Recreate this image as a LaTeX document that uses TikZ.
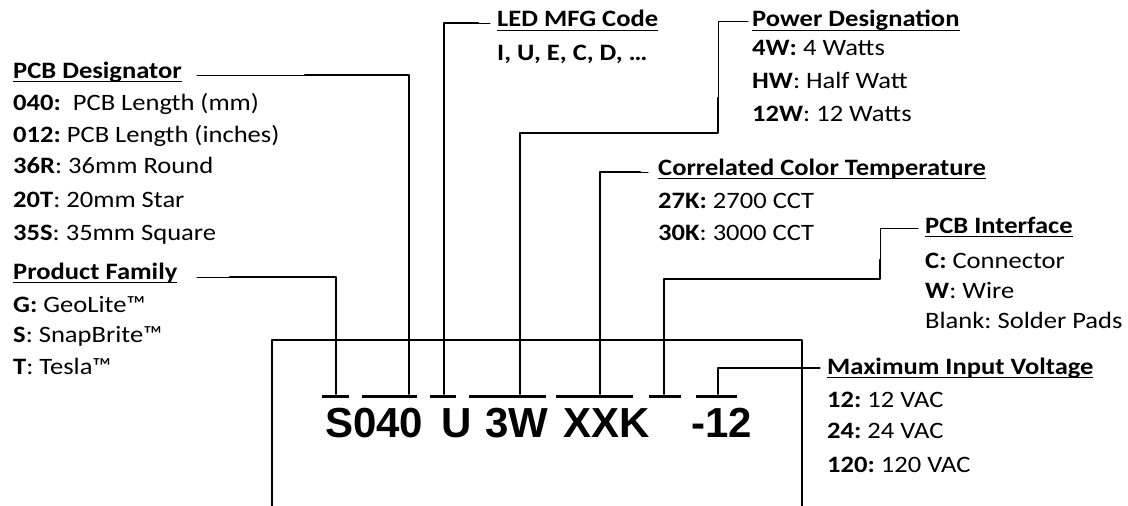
\documentclass[tikz,border=0pt]{standalone}
\usepackage{fontspec}
\setmainfont[FakeStretch=1.13]{Carlito}
\newfontfamily\codefont{Liberation Sans}
\newcommand\hd[1]{\setbox0\hbox{\textbf{#1}}\rlap{\rule[-4.2pt]{\wd0}{1.4pt}}\box0}

\begin{document}
\frenchspacing
\fontsize{23.5}{28}\selectfont
\begin{tikzpicture}[line cap=round,line join=round,x=1pt,y=-1pt,
  txt/.style={anchor=base west,inner sep=0},
  codetxt/.style={anchor=base west,inner sep=0,font=\codefont\bfseries\fontsize{42}{42}\selectfont},
  tickbar/.style={fill=black,inner sep=0,minimum height=3pt},
  lead/.style={line width=1pt},
  heavy/.style={line width=2.6pt},
  inner/.style={line width=1.1pt},
  boxline/.style={line width=1.8pt}]
\useasboundingbox (0,0) rectangle (1128,506);
\clip (0,0) rectangle (1128,506);

% frame
\coordinate (boxtl) at (272,340);
\coordinate (boxtr) at (802,340);
\draw[boxline] (272,512) -- (boxtl) -- (boxtr) -- (802,512);

% part number
\draw(325, 437) node[codetxt] (cS040) {S040};
\draw(441, 437) node[codetxt] (cU) {U};
\draw(485, 437) node[codetxt] (c3W) {3W};
\draw(563, 437) node[codetxt] (cXXK) {XXK};
\draw(691, 437) node[codetxt] (cV12) {-12};

\node[tickbar,minimum width=27pt] (bS) at (335.5,396) {};
\node[tickbar,minimum width=55pt] (b040) at (389.5,396) {};
\node[tickbar,minimum width=26pt] (bU) at (443,396) {};
\node[tickbar,minimum width=77pt] (b3W) at (507.5,396) {};
\node[tickbar,minimum width=77pt] (bXX) at (594.5,396) {};
\node[tickbar,minimum width=32pt] (bK) at (665,396) {};
\node[tickbar,minimum width=41pt] (b12) at (716,396) {};

% PCB Designator
\draw(13, 78) node[txt] (pcbd) {\hd{PCB Designator}};
\draw(13, 110) node[txt] (pcbd1) {\textbf{040:}\ \ PCB Length (mm)};
\draw(13, 142) node[txt] (pcbd2) {\textbf{012:} PCB Length (inches)};
\draw(13, 173) node[txt] (pcbd3) {\textbf{36R}: 36mm Round};
\draw(13, 207) node[txt] (pcbd4) {\textbf{20T}: 20mm Star};
\draw(13, 240) node[txt] (pcbd5) {\textbf{35S}: 35mm Square};
\coordinate (pd0) at (197,75);
\coordinate (pd1) at (305,75);
\coordinate (pd2) at (409,75);
\draw[lead] (pd0) -- (pd1);
\draw[heavy] (pd1) -- (pd2) -- (pd2 |- boxtl);
\draw[inner] (pd2 |- boxtl) -- (pd2 |- b040.north);

% Product Family
\draw(13, 279) node[txt] (pfam) {\hd{Product Family}};
\draw(13, 312) node[txt] (pfam1) {\textbf{G:} GeoLite™};
\draw(13, 342) node[txt] (pfam2) {\textbf{S}: SnapBrite™};
\draw(13, 374) node[txt] (pfam3) {\textbf{T}: Tesla™};
\coordinate (pf0) at (197,277);
\coordinate (pf1) at (230,277);
\coordinate (pf2) at (336,277);
\draw[lead] (pf0) -- (pf1);
\draw[heavy] (pf1) -- (pf2) -- (pf2 |- boxtl);
\draw[inner] (pf2 |- boxtl) -- (pf2 |- bS.north);

% LED MFG Code
\draw(497, 27) node[txt] (led) {\hd{LED MFG Code}};
\draw(497, 60) node[txt] (led1) {\textbf{I, U, E, C, D, …}};
\coordinate (ld0) at (490,23);
\coordinate (ld1) at (478,23);
\coordinate (ld2) at (444,23);
\draw[lead] (ld0) -- (ld1);
\draw[heavy] (ld1) -- (ld2) -- (ld2 |- boxtl);
\draw[inner] (ld2 |- boxtl) -- (ld2 |- bU.north);

% Power Designation
\draw(752, 27) node[txt] (pwr) {\hd{Power Designation}};
\draw(752, 55) node[txt] (pwr1) {\textbf{4W:} 4 Watts};
\draw(752, 88) node[txt] (pwr2) {\textbf{HW}: Half Watt};
\draw(752, 121) node[txt] (pwr3) {\textbf{12W}: 12 Watts};
\coordinate (pw0) at (748,21);
\coordinate (pw1) at (718,21);
\coordinate (pw2) at (718,98);
\coordinate (pw3) at (718,133);
\coordinate (pw4) at (520,133);
\draw[lead] (pw0) -- (pw1) -- (pw2);
\draw[heavy] (pw2) -- (pw3) -- (pw4) -- (pw4 |- boxtl);
\draw[inner] (pw4 |- boxtl) -- (pw4 |- b3W.north);

% Correlated Color Temperature
\draw(658, 175) node[txt] (cct) {\hd{Correlated Color Temperature}};
\draw(658, 208) node[txt] (cct1) {\textbf{27K:} 2700 CCT};
\draw(658, 240) node[txt] (cct2) {\textbf{30K}: 3000 CCT};
\coordinate (cc0) at (648,172);
\coordinate (cc1) at (640,172);
\coordinate (cc2) at (600,172);
\draw[lead] (cc0) -- (cc1);
\draw[heavy] (cc1) -- (cc2) -- (cc2 |- boxtl);
\draw[inner] (cc2 |- boxtl) -- (cc2 |- bXX.north);

% PCB Interface
\draw(925, 233) node[txt] (pif) {\hd{PCB Interface}};
\draw(925, 268) node[txt] (pif1) {\textbf{C:} Connector};
\draw(925, 298) node[txt] (pif2) {\textbf{W}: Wire};
\draw(925, 328) node[txt] (pif3) {Blank: Solder Pads};
\coordinate (pi0) at (918,228);
\coordinate (pi1) at (880,228);
\coordinate (pi2) at (880,260);
\coordinate (pi3) at (880,279);
\coordinate (pi4) at (664,279);
\draw[lead] (pi0) -- (pi1) -- (pi2);
\draw[heavy] (pi2) -- (pi3) -- (pi4) -- (pi4 |- boxtl);
\draw[inner] (pi4 |- boxtl) -- (pi4 |- bK.north);

% Maximum Input Voltage
\draw(827, 374) node[txt] (mvin) {\hd{Maximum Input Voltage}};
\draw(827, 407) node[txt] (mvin1) {\textbf{12:} 12 VAC};
\draw(827, 438) node[txt] (mvin2) {\textbf{24:} 24 VAC};
\draw(827, 472) node[txt] (mvin3) {\textbf{120:} 120 VAC};
\coordinate (mv0) at (820,368);
\coordinate (mv1) at (718,368);
\draw[inner] (mv1 |- b12.north) -- (mv1) -- (mv0);

\end{tikzpicture}
\end{document}
